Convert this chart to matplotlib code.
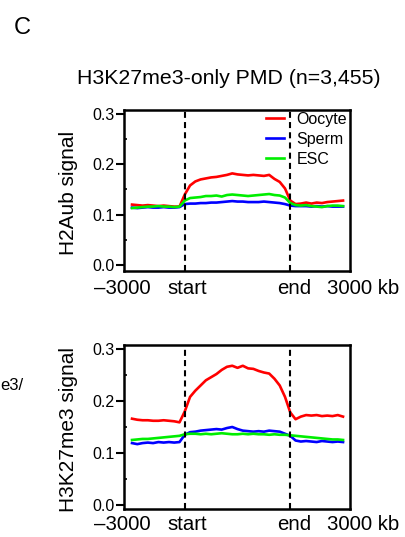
import numpy as np
import matplotlib
matplotlib.use("Agg")
import matplotlib.pyplot as plt
from matplotlib.ticker import MultipleLocator

plt.rcParams['font.family'] = ['Liberation Sans', 'DejaVu Sans']

# ---------------- data ----------------
# bin positions: 0..25 = upstream flank (-3000 kb .. start), 25..75 = scaled PMD body, 75..100 = downstream flank
n_bins = 41
series_names = ["Oocyte", "Sperm", "ESC"]
series_colors = ["#ff0000", "#0000ff", "#00ee00"]

h2aub_oocyte = [0.120, 0.119, 0.118, 0.119, 0.118, 0.117, 0.118, 0.117, 0.116, 0.116,
                0.140, 0.158, 0.166, 0.170, 0.172, 0.174, 0.175, 0.177, 0.179, 0.182,
                0.180, 0.179, 0.178, 0.179, 0.178, 0.177, 0.179, 0.171, 0.165, 0.152,
                0.128, 0.121, 0.122, 0.124, 0.122, 0.124, 0.123, 0.125, 0.126, 0.127, 0.128]
h2aub_sperm = [0.114, 0.113, 0.114, 0.115, 0.114, 0.114, 0.115, 0.114, 0.114, 0.115,
               0.121, 0.122, 0.122, 0.123, 0.123, 0.124, 0.124, 0.125, 0.126, 0.127,
               0.126, 0.126, 0.125, 0.125, 0.125, 0.126, 0.125, 0.124, 0.123, 0.121,
               0.118, 0.117, 0.117, 0.117, 0.116, 0.117, 0.116, 0.117, 0.116, 0.116, 0.116]
h2aub_esc = [0.113, 0.114, 0.115, 0.116, 0.116, 0.117, 0.116, 0.116, 0.115, 0.116,
             0.128, 0.133, 0.134, 0.135, 0.137, 0.137, 0.138, 0.136, 0.139, 0.140,
             0.139, 0.138, 0.137, 0.138, 0.139, 0.140, 0.141, 0.139, 0.138, 0.134,
             0.123, 0.119, 0.118, 0.119, 0.117, 0.116, 0.115, 0.117, 0.118, 0.118, 0.117]

k27_oocyte = [0.166, 0.164, 0.163, 0.163, 0.162, 0.162, 0.163, 0.162, 0.161, 0.159,
              0.180, 0.208, 0.220, 0.230, 0.240, 0.246, 0.252, 0.260, 0.266, 0.268,
              0.264, 0.268, 0.263, 0.262, 0.258, 0.255, 0.253, 0.243, 0.230, 0.208,
              0.178, 0.165, 0.170, 0.173, 0.172, 0.173, 0.171, 0.172, 0.171, 0.173, 0.170]
k27_sperm = [0.119, 0.117, 0.119, 0.120, 0.119, 0.121, 0.120, 0.121, 0.120, 0.121,
             0.135, 0.140, 0.141, 0.143, 0.144, 0.145, 0.146, 0.145, 0.148, 0.150,
             0.146, 0.143, 0.142, 0.141, 0.142, 0.141, 0.143, 0.142, 0.141, 0.137,
             0.133, 0.124, 0.122, 0.123, 0.122, 0.121, 0.123, 0.122, 0.121, 0.122, 0.121]
k27_esc = [0.125, 0.126, 0.127, 0.127, 0.128, 0.129, 0.130, 0.131, 0.132, 0.133,
           0.136, 0.137, 0.137, 0.136, 0.137, 0.136, 0.137, 0.138, 0.137, 0.136,
           0.136, 0.137, 0.136, 0.137, 0.136, 0.136, 0.135, 0.136, 0.135, 0.135,
           0.134, 0.133, 0.132, 0.131, 0.130, 0.129, 0.128, 0.127, 0.126, 0.126, 0.125]

x_tick_labels = ["\u20133000", "start", "end", "3000 kb"]
y_ticks = [0.0, 0.1, 0.2, 0.3]
panel_ylabels = ["H2Aub signal", "H3K27me3 signal"]
title = "H3K27me3-only PMD (n=3,455)"

x = np.linspace(0, 100, n_bins)
start_pos, end_pos = 25, 75

W, H = 405, 537
fig = plt.figure(figsize=(W / 100, H / 100), dpi=100)

def fx(px):
    return px / W

def fy(py):
    return 1 - py / H

panels = [
    dict(top=110, bottom=271, ylim=(-0.012, 0.308), data=[h2aub_oocyte, h2aub_sperm, h2aub_esc],
         ylabel=panel_ylabels[0], legend=True, xlab_y=289),
    dict(top=345, bottom=509, ylim=(-0.008, 0.308), data=[k27_oocyte, k27_sperm, k27_esc],
         ylabel=panel_ylabels[1], legend=False, xlab_y=525),
]

left_px, right_px = 124, 350
for p in panels:
    ax = fig.add_axes([fx(left_px), fy(p["bottom"]), (right_px - left_px) / W,
                       (p["bottom"] - p["top"]) / H])
    for vals, name, col in zip(p["data"], series_names, series_colors):
        ax.plot(x, vals, color=col, lw=1.9, label=name, solid_joinstyle='round')
    for xv in (start_pos, end_pos):
        ax.axvline(xv, color='black', lw=1.5, linestyle=(0, (2.9, 2.0)))
    ax.set_xlim(-3.8, 103.3)
    ax.set_ylim(*p["ylim"])
    ax.set_yticks(y_ticks)
    ax.set_yticklabels([f"{v:.1f}" for v in y_ticks], fontsize=11.5)
    ax.yaxis.set_minor_locator(MultipleLocator(0.05))
    ax.tick_params(axis='y', which='major', direction='out', length=5.5, width=1.5, pad=1.5)
    ax.tick_params(axis='y', which='minor', direction='in', length=2.2, width=1.2)
    ax.set_xticks([])
    for s in ax.spines.values():
        s.set_linewidth(1.8)
    # y label
    fig.text(fx(68), fy((p["top"] + p["bottom"]) / 2 + 2), p["ylabel"], rotation=90,
             ha='center', va='center', fontsize=15)
    # x labels
    for lab, cx in zip(x_tick_labels, [122, 187, 294, 363]):
        fig.text(fx(cx), fy(p["xlab_y"]), lab, ha='center', va='center', fontsize=14.7)
    if p["legend"]:
        ax.legend(loc='upper right', bbox_to_anchor=(fx(347), fy(112)),
                  bbox_transform=fig.transFigure, frameon=False, fontsize=11.5,
                  handlelength=1.15, handletextpad=0.75, labelspacing=0.3,
                  borderpad=0, borderaxespad=0)

fig.text(fx(229), fy(78), title, ha='center', va='center', fontsize=15.3)
fig.text(fx(22), fy(28), "C", ha='center', va='center', fontsize=17)
fig.text(fx(0), fy(386), "e3/", ha='left', va='center', fontsize=12)

fig.savefig("out.png", dpi=100)
